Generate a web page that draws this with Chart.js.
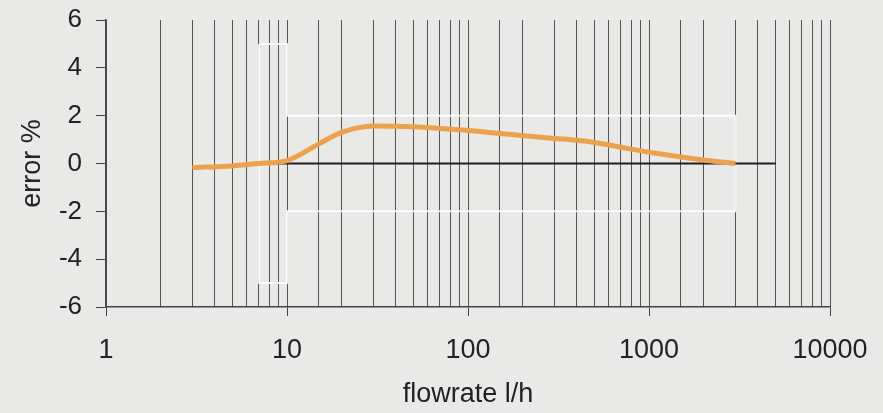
<!DOCTYPE html>
<html>
<head>
<meta charset="utf-8">
<script src="https://cdn.jsdelivr.net/npm/chart.js@4/dist/chart.umd.min.js"></script>
<style>
  html, body { margin: 0; padding: 0; background: #e9e9e8; }
  #wrap { width: 883px; height: 413px; }
</style>
</head>
<body>
<div id="wrap"><canvas id="errorChart"></canvas></div>
<script>
// measured curve
var flowRates = [3, 5, 7, 10, 15, 20, 30, 50, 100, 200, 300, 400, 500, 700, 1000, 2000, 3000];
var errorPct = [-0.17, -0.1, 0, 0.12, 0.82, 1.3, 1.57, 1.54, 1.38, 1.17, 1.05, 0.97, 0.88, 0.68, 0.47, 0.15, 0];

// permitted error envelope (white)
var limitX = [7, 10, 10, 3000, 3000, 10, 10, 7, 7];
var limitY = [5, 5, 2, 2, -2, -2, -5, -5, 5];

// zero reference line
var refX = [7, 5000];
var refY = [0, 0];

var yTicks = [-6, -4, -2, 0, 2, 4, 6];
var xLabels = [1, 10, 100, 1000, 10000];

function pts(xs, ys) {
  return xs.map(function (x, i) { return { x: x, y: ys[i] }; });
}
function isMajor(v) {
  return xLabels.indexOf(v) !== -1;
}

var bgPlugin = {
  id: 'bg',
  beforeDraw: function (chart) {
    var c = chart.ctx;
    c.save();
    c.fillStyle = '#e9e9e8';
    c.fillRect(0, 0, chart.width, chart.height);
    c.restore();
  }
};

var ctx = document.getElementById('errorChart').getContext('2d');
var errorChart = new Chart(ctx, {
  type: 'line',
  data: {
    datasets: [{
      label: 'curve',
      data: pts(flowRates, errorPct),
      borderColor: '#eca24c',
      borderWidth: 5,
      pointRadius: 0,
      tension: 0.4,
      cubicInterpolationMode: 'monotone',
      order: 1
    }, {
      label: 'zero',
      data: pts(refX, refY),
      borderColor: '#1e1e1e',
      borderWidth: 2,
      pointRadius: 0,
      order: 2
    }, {
      label: 'limits',
      data: pts(limitX, limitY),
      borderColor: 'rgba(255,255,255,0.9)',
      borderWidth: 2,
      pointRadius: 0,
      tension: 0,
      order: 3
    }]
  },
  options: {
    responsive: true,
    maintainAspectRatio: false,
    animation: false,
    layout: {
      padding: { top: 20, right: 53, left: 0, bottom: 0 }
    },
    plugins: {
      legend: { display: false },
      tooltip: { enabled: false }
    },
    scales: {
      x: {
        type: 'logarithmic',
        min: 1,
        max: 10000,
        afterFit: function (scale) {
          scale.height = 106;
          scale.paddingLeft = 0;
          scale.paddingRight = 0;
        },
        border: { color: '#444', width: 1.5 },
        grid: {
          color: '#555',
          lineWidth: 1,
          tickLength: 9,
          tickColor: function (c) {
            return isMajor(c.tick && c.tick.value) ? '#444' : 'rgba(0,0,0,0)';
          }
        },
        ticks: {
          autoSkip: false,
          maxRotation: 0,
          padding: 18,
          color: '#222',
          font: { family: 'Liberation Sans', size: 27 },
          callback: function (v) {
            return isMajor(v) ? String(v) : '';
          }
        },
        title: {
          display: true,
          text: 'flowrate l/h',
          color: '#222',
          font: { family: 'Liberation Sans', size: 27 },
          padding: { top: 4, bottom: 2 }
        }
      },
      y: {
        min: -6,
        max: 6,
        afterFit: function (scale) {
          scale.width = 106;
          scale.paddingTop = 0;
          scale.paddingBottom = 0;
        },
        afterBuildTicks: function (scale) {
          scale.ticks = yTicks.map(function (v) { return { value: v }; });
        },
        border: { color: '#444', width: 1.5 },
        grid: {
          drawOnChartArea: false,
          tickLength: 10,
          tickColor: '#444'
        },
        ticks: {
          padding: 14,
          color: '#222',
          font: { family: 'Liberation Sans', size: 26 }
        },
        title: {
          display: true,
          text: 'error %',
          color: '#222',
          font: { family: 'Liberation Sans', size: 27 },
          padding: { top: 16, bottom: 0 }
        }
      }
    }
  },
  plugins: [bgPlugin]
});
</script>
</body>
</html>
